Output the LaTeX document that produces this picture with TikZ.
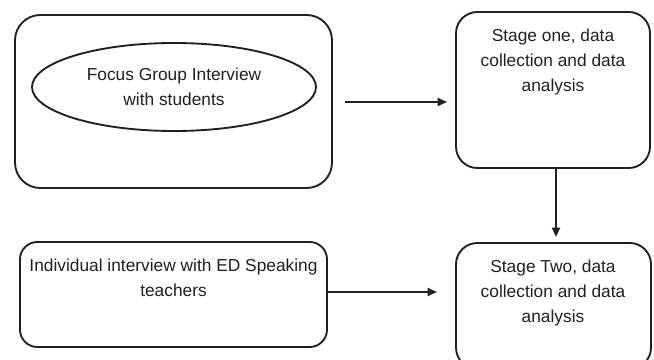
\documentclass[tikz,border=0pt]{standalone}
\usepackage{fontspec}
\setmainfont{Liberation Sans}
\usetikzlibrary{shapes.geometric,arrows.meta}
\definecolor{ink}{HTML}{231F20}
\begin{document}
\begin{tikzpicture}[x=0.75pt,y=-0.75pt,
  box/.style={draw=ink,line width=1.4pt,rectangle,inner sep=0pt},
  txt/.style={text=ink,align=center,inner sep=0pt,font=\fontsize{13pt}{18.7pt}\selectfont},
  conn/.style={draw=ink,line width=1.4pt,-{Triangle[length=7pt,width=6pt]}}]
\useasboundingbox (0,0) rectangle (654,360);
% boxes
\node[box,rounded corners=19pt,minimum width=237.75pt,minimum height=129.75pt] (b1) at (173.5,101.5) {};
\node[box,ellipse,minimum width=213pt,minimum height=66pt,txt] (ell) at (174,87) {Focus Group Interview\\with students};
\node[box,rounded corners=16pt,minimum width=145.5pt,minimum height=117pt] (b2) at (553,90) {};
\node[txt] (t2) at (553,62) {Stage one, data\\collection and data\\analysis};
\node[box,rounded corners=16pt,minimum width=146.25pt,minimum height=94.5pt] (b3) at (553.5,306) {};
\node[txt] (t3) at (553,293) {Stage Two, data\\collection and data\\analysis};
\node[box,rounded corners=13pt,minimum width=230.25pt,minimum height=78.75pt] (b4) at (173.5,294.5) {};
\node[txt] (t4) at (173.5,277.5) {Individual interview with ED Speaking\\teachers};
% connectors
\coordinate (a1s) at (345,102);
\coordinate (a1e) at (447,102);
\draw[conn] (a1s) -- (a1e);
\coordinate (a2s) at (b2.south -| 556,0);
\coordinate (a2e) at (556,237);
\draw[conn] (a2s) -- (a2e);
\coordinate (a3s) at (b4.east |- 0,292);
\coordinate (a3e) at (437,292);
\draw[conn] (a3s) -- (a3e);
\end{tikzpicture}
\end{document}
